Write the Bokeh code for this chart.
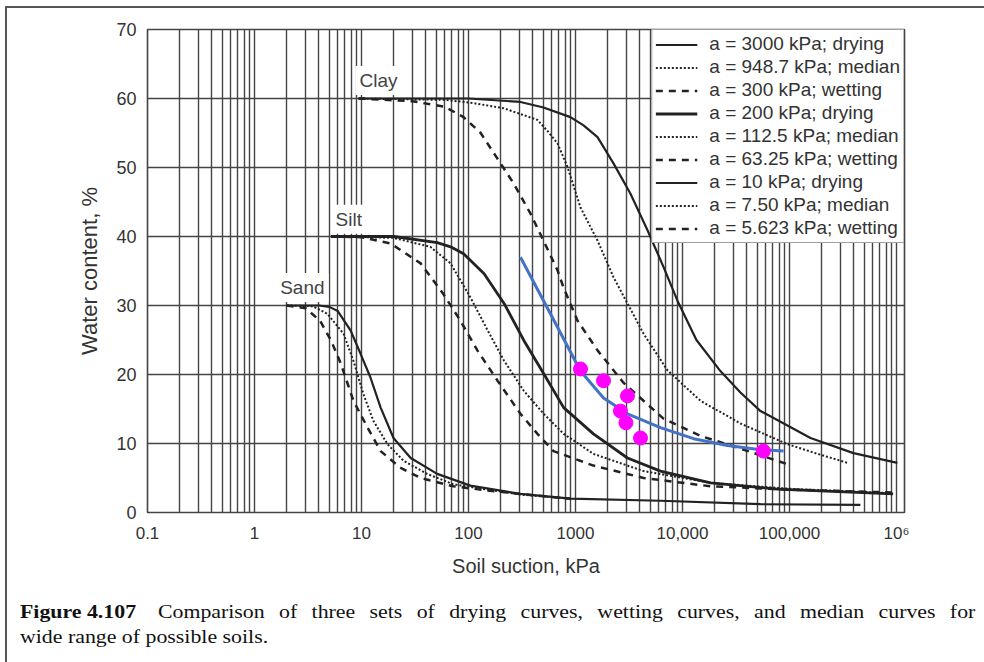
from bokeh.plotting import figure
from bokeh.models import FixedTicker, Label, Div
from bokeh.layouts import column
from bokeh.embed import file_html
from bokeh.resources import INLINE

# ---- data (soil suction kPa, water content %) ----
clay_dry_x = [9.4, 100, 306, 502, 897, 1189, 1607, 2265, 3266, 4710, 6640, 8970, 13500, 22600, 34800, 53600, 95700, 157000, 396000, 1020000]
clay_dry_y = [60.0, 60.0, 59.5, 58.7, 57.3, 56.1, 54.4, 50.6, 46.2, 40.9, 35.6, 30.7, 25.0, 20.5, 17.4, 14.7, 12.6, 10.8, 8.6, 7.2]
clay_med_x = [9.4, 60, 104, 212, 441, 547, 679, 841, 1114, 1607, 2265, 3060, 4330, 7240, 14700, 34800, 95700, 183000, 348000]
clay_med_y = [60.0, 59.8, 59.4, 58.6, 56.9, 55.3, 53.5, 50.1, 44.2, 39.4, 34.1, 30.3, 25.9, 20.6, 16.2, 12.9, 9.9, 8.5, 7.2]
clay_wet_x = [9.4, 30, 60, 90, 130, 264, 380, 502, 679, 773, 1045, 1607, 2810, 6640, 14700, 32600, 95700]
clay_wet_y = [60.0, 59.6, 58.8, 57.3, 55.0, 47.7, 43.3, 39.4, 35.1, 32.6, 27.8, 23.5, 18.8, 13.6, 11.1, 9.4, 7.0]

silt_dry_x = [5.2, 20, 51, 68, 90, 140, 215, 330, 505, 775, 1470, 3060, 6220, 18300, 77000, 930000]
silt_dry_y = [40.0, 40.0, 39.1, 38.5, 37.5, 34.6, 30.3, 24.9, 20.1, 15.2, 11.4, 7.9, 6.0, 4.3, 3.4, 2.7]
silt_med_x = [5.2, 20, 44, 68, 104, 151, 215, 330, 505, 775, 1470, 4330, 18300, 109000, 930000]
silt_med_y = [40.0, 39.8, 38.5, 36.1, 31.2, 26.4, 22.0, 17.6, 14.3, 11.4, 8.5, 6.0, 4.3, 3.4, 2.8]
silt_wet_x = [5.2, 10, 18.7, 35.7, 58, 84, 121, 187, 306, 441, 622, 1470, 4330, 18300, 109000, 930000]
silt_wet_y = [40.0, 39.9, 39.0, 36.1, 31.7, 27.8, 23.5, 19.1, 14.3, 11.4, 8.9, 6.8, 5.0, 3.8, 3.3, 2.9]

sand_dry_x = [2.0, 4.0, 5.0, 6.0, 7.9, 9.8, 12.1, 15.1, 19.9, 28.8, 51, 104, 306, 900, 6220, 53600, 460000]
sand_dry_y = [30.0, 30.0, 29.8, 29.2, 26.4, 23.0, 19.6, 15.2, 10.8, 7.9, 5.6, 3.9, 2.7, 2.0, 1.7, 1.2, 1.1]
sand_med_x = [2.0, 3.5, 4.8, 6.8, 8.4, 10.4, 12.9, 17.5, 24.7, 41, 72, 104, 306, 900]
sand_med_y = [30.0, 29.9, 28.8, 25.9, 22.0, 17.2, 13.3, 9.9, 7.5, 5.6, 4.1, 3.7, 2.6, 2.0]
sand_wet_x = [2.0, 3.0, 4.1, 5.2, 6.4, 8.4, 11.4, 15.1, 23, 35.7, 72, 150, 400, 900]
sand_wet_y = [30.0, 29.6, 27.8, 24.9, 21.6, 16.2, 12.3, 8.9, 6.5, 5.0, 3.8, 3.2, 2.5, 2.0]

fit_x = [306, 583, 1114, 1828, 3060, 6220, 12700, 26300, 53600, 88000]
fit_y = [37.0, 28.8, 20.5, 16.6, 14.3, 12.3, 10.7, 9.7, 9.1, 8.9]
pts_x = [1114, 1828, 3060, 2630, 2960, 4050, 57000]
pts_y = [20.8, 19.1, 16.9, 14.7, 13.0, 10.8, 8.9]

legend_labels = [
    "a = 3000 kPa; drying", "a = 948.7 kPa; median", "a = 300 kPa; wetting",
    "a = 200 kPa; drying", "a = 112.5 kPa; median", "a = 63.25 kPa; wetting",
    "a = 10 kPa; drying", "a = 7.50 kPa; median", "a = 5.623 kPa; wetting",
]
soil_names = ["Clay", "Silt", "Sand"]
soil_label_x = [14.4, 7.6, 2.8]
soil_label_y = [62.6, 42.5, 32.6]

x_major = [0.1, 1, 10, 100, 1000, 10000, 100000, 1000000]
x_major_labels = ["0.1", "1", "10", "100", "1000", "10,000", "100,000", "10\u2076"]
x_minor = [m * 10.0 ** e for e in range(-1, 6) for m in range(2, 10)]
y_major = [0, 10, 20, 30, 40, 50, 60, 70]

caption_bold = "Figure 4.107"
caption_line1 = "Comparison of three sets of drying curves, wetting curves, and median curves for"
caption_line2 = "wide range of possible soils."

FONT = "Liberation Sans"
INK = "#222222"
GRID = "#444444"

p = figure(width=977, height=590, x_axis_type="log",
           x_range=(0.1, 1.188e6), y_range=(0, 70),
           output_backend="svg", toolbar_location=None,
           min_border_left=140, min_border_right=80,
           min_border_top=21, min_border_bottom=86,
           background_fill_color="white", border_fill_color="white")

p.xaxis.ticker = FixedTicker(ticks=x_major, minor_ticks=x_minor)
p.xaxis.major_label_overrides = {t: s for t, s in zip(x_major, x_major_labels)}
p.yaxis.ticker = FixedTicker(ticks=y_major)

for ax in (p.xaxis[0], p.yaxis[0]):
    ax.axis_line_color = None
    ax.major_tick_line_color = None
    ax.minor_tick_line_color = None
    ax.major_label_text_font = FONT
    ax.major_label_text_color = "#333333"
    ax.axis_label_text_font = FONT
    ax.axis_label_text_font_style = "normal"
    ax.axis_label_text_color = "#333333"

p.xaxis.major_label_text_font_size = "17px"
p.yaxis.major_label_text_font_size = "18px"
p.xaxis.axis_label = "Soil suction, kPa"
p.xaxis.axis_label_text_font_size = "20px"
p.xaxis.major_label_standoff = 5
p.xaxis.axis_label_standoff = 9
p.yaxis.axis_label = "Water content, %"
p.yaxis.axis_label_text_font_size = "22px"
p.yaxis.major_label_standoff = 5
p.yaxis.axis_label_standoff = 11

p.xgrid.grid_line_color = GRID
p.xgrid.grid_line_width = 1.4
p.xgrid.minor_grid_line_color = GRID
p.xgrid.minor_grid_line_width = 1.4
p.ygrid.grid_line_color = GRID
p.ygrid.grid_line_width = 1.6
p.outline_line_color = GRID
p.outline_line_width = 1.6

series = [
    (clay_dry_x, clay_dry_y, "solid", 2.2),
    (clay_med_x, clay_med_y, "2 2", 2.0),
    (clay_wet_x, clay_wet_y, "7 6", 2.5),
    (silt_dry_x, silt_dry_y, "solid", 2.8),
    (silt_med_x, silt_med_y, "2 2", 2.0),
    (silt_wet_x, silt_wet_y, "7 6", 2.5),
    (sand_dry_x, sand_dry_y, "solid", 2.2),
    (sand_med_x, sand_med_y, "2 2", 2.0),
    (sand_wet_x, sand_wet_y, "7 6", 2.5),
]
for (xs, ys, dash, w), lab in zip(series, legend_labels):
    p.line(xs, ys, line_color=INK, line_width=w, line_dash=dash, legend_label=lab)

p.line(fit_x, fit_y, line_color="#4472C4", line_width=3)
p.scatter(pts_x, pts_y, size=14, fill_color="#FF00FF", line_color="#FF00FF")

for name, lx, ly in zip(soil_names, soil_label_x, soil_label_y):
    p.add_layout(Label(x=lx, y=ly, text=name, text_align="center", text_baseline="middle",
                       text_font=FONT, text_font_size="19px", text_color="#444444",
                       background_fill_color="white", padding=4))

lg = p.legend[0]
lg.location = "top_right"
lg.margin = 0
lg.padding = 3
lg.spacing = 1
lg.label_height = 21
lg.glyph_height = 21
lg.glyph_width = 42
lg.label_standoff = 12
lg.label_text_font = FONT
lg.label_text_font_size = "19px"
lg.label_text_color = "#333333"
lg.border_line_color = GRID
lg.border_line_width = 1.3
lg.background_fill_color = "white"
lg.background_fill_alpha = 1.0

words = caption_line1.split(" ")
caption = Div(
    width=977, height=56,
    text=(
        '<div style="font-family: \'Liberation Serif\', serif; font-size: 19.5px; line-height: 25px; '
        'color: #111111; margin: -4px 0 0 8px; width: 853px; '
        'transform: scaleX(1.12); transform-origin: 0 0;">'
        '<div style="white-space: nowrap; display: flex; justify-content: space-between;">'
        f'<span><b>{caption_bold}</b>&ensp;&ensp;{words[0]}</span>'
        + "".join(f"<span>{w}</span>" for w in words[1:])
        + '</div>'
        f'<div>{caption_line2}</div>'
        '</div>'
    ),
)

page = column(p, caption, spacing=0,
              styles={"margin-left": "5px", "margin-top": "6px",
                      "border-top": "2px solid #555555", "border-left": "2px solid #555555"})

open("out.html", "w").write(file_html(page, INLINE))
